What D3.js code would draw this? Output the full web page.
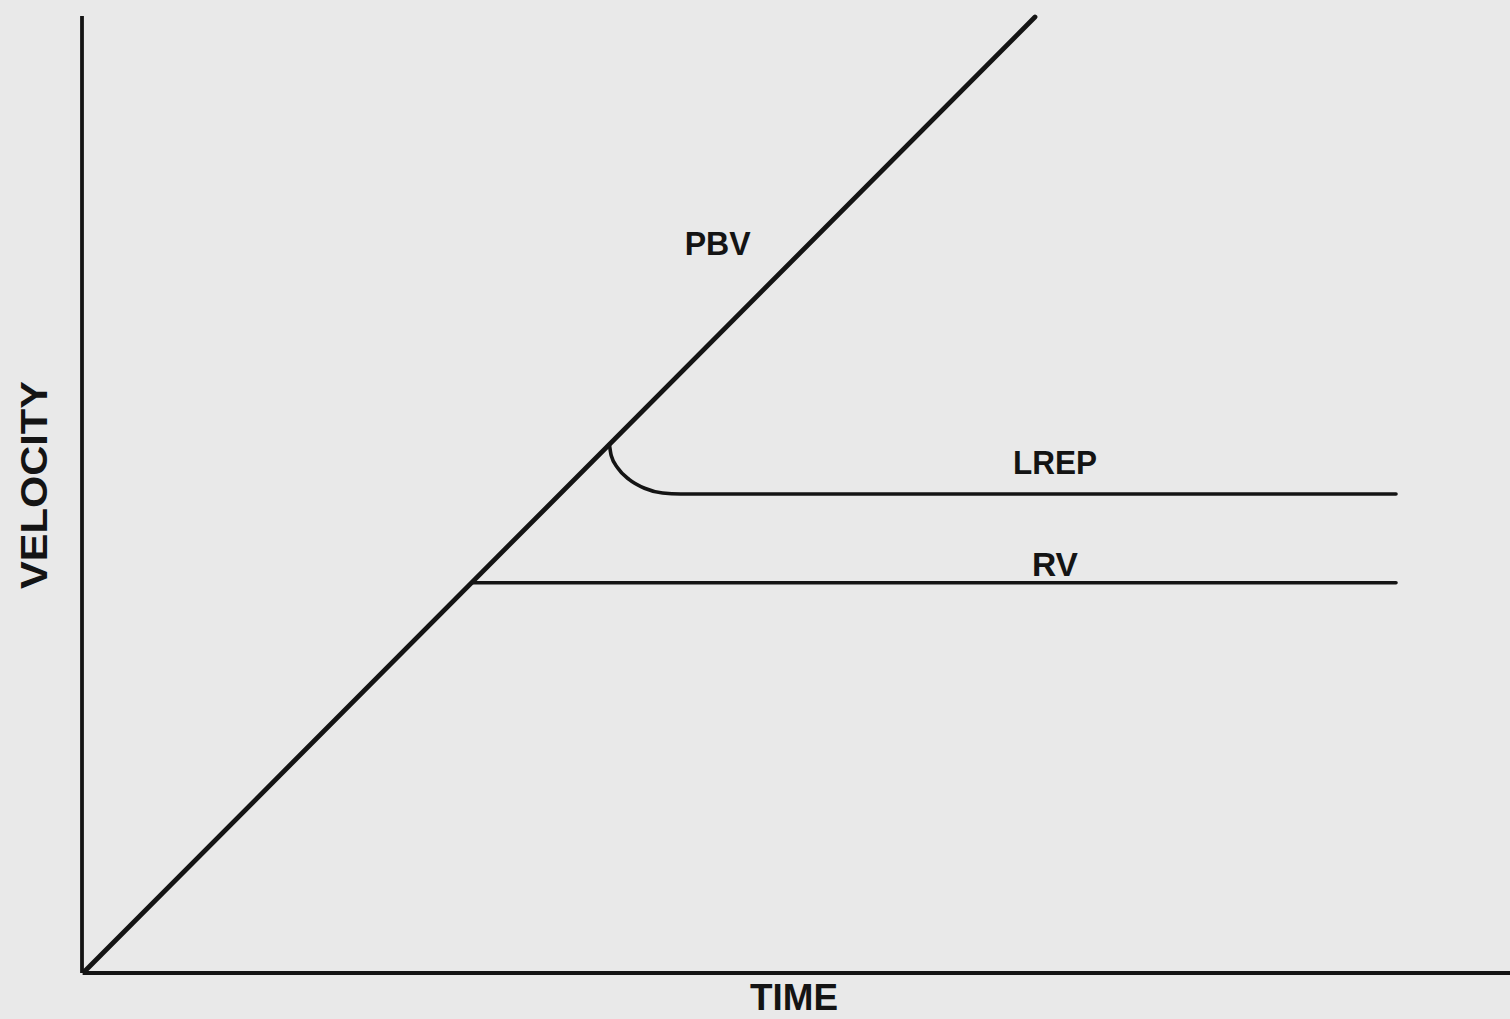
<!DOCTYPE html>
<html><head><meta charset="utf-8">
<script src="https://cdn.jsdelivr.net/npm/d3@7"></script>
<style>
html,body{margin:0;padding:0;background:#e9e9e9;}
svg{display:block;}
text{font-family:"Liberation Sans",Arial,Helvetica,sans-serif;font-weight:bold;fill:#141414;}
</style></head>
<body>
<svg id="chart" width="1510" height="1019"></svg>
<script>
// Data (abstract units: time 0..150, velocity 0..100)
const pbvSeries = [[0, 0], [100, 100]];
const rvSeries = [[40.7, 40.7], [138, 40.7]];
const lrepSeries = [[55.2, 55.2], [55.4, 54.0], [56.1, 52.7], [57.3, 51.5], [58.9, 50.6], [60.8, 50.1], [62.7, 50.0], [138, 50.0]];
const seriesNames = ["PBV", "LREP", "RV"];
const labelAnchorsX = [66.6, 102.1, 102.1];
const labelAnchorsY = [75.1, 52.1, 41.4];
const axisTitles = ["TIME", "VELOCITY"];

const W = 1510, H = 1019;
const svg = d3.select("#chart");
svg.append("rect").attr("width", W).attr("height", H).attr("fill", "#e9e9e9");

const x = d3.scaleLinear().domain([0, 150]).range([85, 1510]);
const y = d3.scaleLinear().domain([0, 100]).range([971, 17]);

// axes (no ticks)
const xAxis = d3.axisBottom(x).tickValues([]).tickSizeOuter(0);
const yAxis = d3.axisLeft(y).tickValues([]).tickSizeOuter(0);
svg.append("g").attr("transform", "translate(0,973)")
  .call(xAxis)
  .call(g => g.select(".domain").attr("stroke", "#141414").attr("stroke-width", 3.8)
    .attr("d", `M${x(-0.25)},0H${x(150)}`));
svg.append("g").attr("transform", "translate(82,0)")
  .call(yAxis)
  .call(g => g.select(".domain").attr("stroke", "#141414").attr("stroke-width", 3.8)
    .attr("d", `M0,${y(100.1)}V${y(-0.2)}`));

const line = d3.line().x(d => x(d[0])).y(d => y(d[1]));
const lineCurve = d3.line().x(d => x(d[0])).y(d => y(d[1])).curve(d3.curveMonotoneX);

svg.append("path").datum(pbvSeries).attr("d", line)
  .attr("fill", "none").attr("stroke", "#141414").attr("stroke-width", 4.8).attr("stroke-linecap", "round");
svg.append("path").datum(rvSeries).attr("d", line)
  .attr("fill", "none").attr("stroke", "#141414").attr("stroke-width", 3.6).attr("stroke-linecap", "round");
svg.append("path").datum(lrepSeries).attr("d", lineCurve)
  .attr("fill", "none").attr("stroke", "#141414").attr("stroke-width", 3.6).attr("stroke-linecap", "round");

// series labels
const labelWidths = [66, 84, 46];
seriesNames.forEach((n, i) => {
  svg.append("text")
    .attr("x", x(labelAnchorsX[i])).attr("y", y(labelAnchorsY[i]))
    .attr("text-anchor", "middle")
    .attr("font-size", 33)
    .attr("textLength", labelWidths[i]).attr("lengthAdjust", "spacingAndGlyphs")
    .text(n);
});

// axis titles
svg.append("text").attr("x", 794).attr("y", 1010)
  .attr("text-anchor", "middle").attr("font-size", 36)
  .attr("textLength", 88).attr("lengthAdjust", "spacingAndGlyphs")
  .text(axisTitles[0]);
svg.append("text").attr("transform", "translate(47,485) rotate(-90)")
  .attr("text-anchor", "middle").attr("font-size", 36)
  .attr("textLength", 208).attr("lengthAdjust", "spacingAndGlyphs")
  .text(axisTitles[1]);
</script>
</body></html>
